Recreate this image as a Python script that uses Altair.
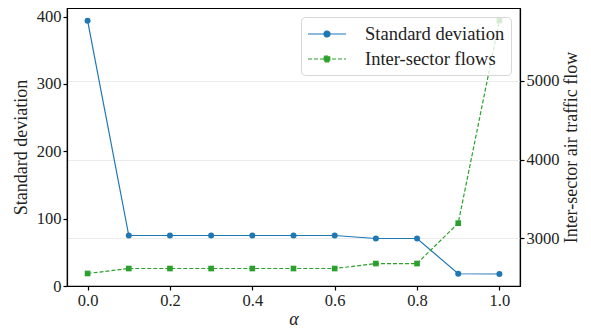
import altair as alt
import pandas as pd

# ---- data ----
alpha = [0.0, 0.1, 0.2, 0.3, 0.4, 0.5, 0.6, 0.7, 0.8, 0.9, 1.0]
std_dev = [394, 75, 75, 75, 75, 75, 75, 70.5, 70.5, 18.2, 17.8]
flows = [2555, 2618, 2618, 2618, 2618, 2618, 2618, 2681, 2681, 3194, 5767]
series_names = ["Standard deviation", "Inter-sector flows"]
series_colors = ["#1f77b4", "#2ca02c"]
x_ticks = [0.0, 0.2, 0.4, 0.6, 0.8, 1.0]
left_ticks = [0, 100, 200, 300, 400]
right_ticks = [3000, 4000, 5000]

df = pd.DataFrame({"alpha": alpha, "std": std_dev, "flows": flows})

FONT = "Liberation Serif"
TXT = "#222222"

axis_style = dict(
    labelFont=FONT, titleFont=FONT,
    labelFontSize=16.5, titleFontSize=18,
    labelColor=TXT, titleColor=TXT,
    titleFontWeight="normal",
    domainColor="black", domainWidth=1.2,
    tickColor="black", tickWidth=1.2, tickSize=4,
    labelPadding=2,
    gridColor="#ebebeb", gridWidth=1,
)

x_enc = alt.X(
    "alpha:Q",
    scale=alt.Scale(domain=[-0.05, 1.05], nice=False, zero=False),
    axis=alt.Axis(title="α", values=x_ticks, format=".1f", grid=False,
                  titleFontStyle="italic", titlePadding=2, **axis_style),
)

color_scale = alt.Scale(domain=series_names, range=series_colors)

legend = alt.Legend(
    title=None,
    orient="top-right",
    offset=9,
    symbolType=alt.ExprRef(
        "datum.value == 'Standard deviation' ? "
        "'M-1.9,0L1.9,0M0.3,0A0.3,0.3,0,1,1,-0.3,0A0.3,0.3,0,1,1,0.3,0Z' : "
        "'M-1.9,0L1.9,0M-0.28,-0.28L0.28,-0.28L0.28,0.28L-0.28,0.28Z'"
    ),
    symbolFillColor=alt.ExprRef(
        "datum.value == 'Standard deviation' ? '#1f77b4' : '#2ca02c'"
    ),
    symbolDash=alt.ExprRef(
        "datum.value == 'Standard deviation' ? [1, 0] : [4, 2]"
    ),
    symbolSize=400,
    symbolOffset=9,
    symbolStrokeWidth=1.2,
    labelFont=FONT,
    labelFontSize=18.5,
    labelColor=TXT,
    labelOffset=27,
    labelLimit=0,
    fillColor="rgba(255,255,255,0.8)",
    strokeColor="#d6d6d6",
    cornerRadius=4,
    padding=6,
    rowPadding=4,
)

left_scale = alt.Scale(domain=[0, 412.8], nice=False, zero=False)
right_scale = alt.Scale(domain=[2396, 5926], nice=False, zero=False)

left_axis = alt.Axis(title="Standard deviation", values=left_ticks, format="d",
                     grid=False, orient="left", titlePadding=6, **axis_style)
right_axis = alt.Axis(title="Inter-sector air traffic flow", values=right_ticks,
                      format="d", grid=True, orient="right", titleAngle=270,
                      titleBaseline="top", titlePadding=3, **axis_style)

base = alt.Chart(df)

std_line = base.transform_calculate(series="'Standard deviation'").mark_line(
    strokeWidth=1.2
).encode(
    x=x_enc,
    y=alt.Y("std:Q", scale=left_scale, axis=left_axis),
    color=alt.Color("series:N", scale=color_scale, legend=legend),
)
std_pts = base.mark_point(filled=True, shape="circle", size=36,
                          color=series_colors[0], opacity=1).encode(
    x=x_enc,
    y=alt.Y("std:Q", scale=left_scale, axis=left_axis),
)

flow_line = base.transform_calculate(series="'Inter-sector flows'").mark_line(
    strokeWidth=1.2, strokeDash=[4, 2]
).encode(
    x=x_enc,
    y=alt.Y("flows:Q", scale=right_scale, axis=right_axis),
    color=alt.Color("series:N", scale=color_scale, legend=legend),
)
flow_pts = base.mark_point(filled=True, shape="square", size=32,
                           color=series_colors[1], opacity=1).encode(
    x=x_enc,
    y=alt.Y("flows:Q", scale=right_scale, axis=right_axis),
)

left = alt.layer(std_line, std_pts)
right = alt.layer(flow_line, flow_pts)

chart = alt.layer(left, right).resolve_scale(y="independent").properties(
    width=453,
    height=278,
    autosize=alt.AutoSizeParams(type="none"),
    padding={"left": 59, "top": 0, "right": 63, "bottom": 45},
).configure(
    font=FONT
).configure_view(
    stroke="black", strokeWidth=1.2
).configure_axis(**axis_style)

chart.save("out.html", embed_options={"renderer": "svg", "actions": False})
